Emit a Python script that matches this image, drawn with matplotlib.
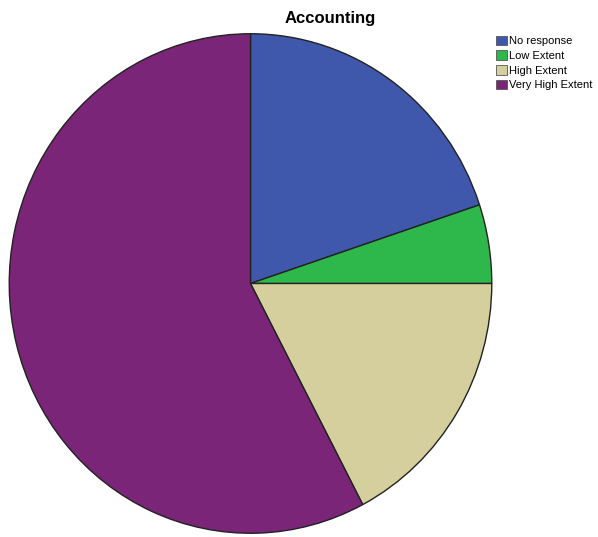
import matplotlib.pyplot as plt
from matplotlib.patches import Patch

labels = ["No response", "Low Extent", "High Extent", "Very High Extent"]
values = [19.9, 5.1, 17.3, 57.7]
colors = ["#3F58AB", "#2EB84B", "#D4CF9C", "#7A2577"]

W, H = 598, 537
fig = plt.figure(figsize=(W / 100, H / 100), dpi=100)

# the reference pie is slightly taller than wide
cx, cy, rx, ry = 250.5, 283.5, 242, 250.5
ax = fig.add_axes([(cx - rx) / W, (H - cy - ry) / H, 2 * rx / W, 2 * ry / H])
ax.pie(values, colors=colors, startangle=90, counterclock=False,
       wedgeprops=dict(edgecolor="#222222", linewidth=1.0))
ax.set_aspect("auto")
ax.set_xlim(-1.003, 1.003)
ax.set_ylim(-1.003, 1.003)
ax.axis("off")

fig.text(330 / W, 1 - 18 / H, "Accounting", ha="center", va="center",
         fontsize=12, fontweight="bold", family="Liberation Sans")

handles = [Patch(facecolor=c, edgecolor="#555555", linewidth=0.6, label=l)
           for c, l in zip(colors, labels)]
fig.legend(handles=handles, loc="upper left", bbox_to_anchor=(496 / W, 1 - 35.5 / H),
           frameon=False, handlelength=1.0, handleheight=1.0,
           handletextpad=0.2, labelspacing=0.35, borderaxespad=0, borderpad=0,
           prop={"family": "Liberation Sans", "size": 8})

fig.savefig("out.png", dpi=100)
